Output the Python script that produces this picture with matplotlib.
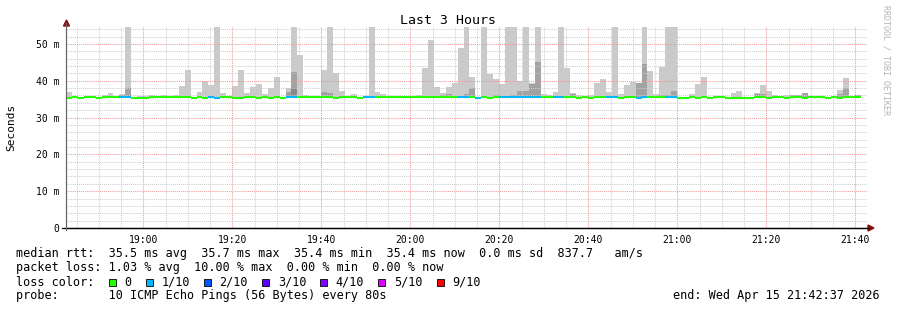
import numpy as np
import matplotlib
matplotlib.use('Agg')
import matplotlib.pyplot as plt
from matplotlib.patches import Polygon, Rectangle

# ---------------- data ----------------
start_min = 42 + 37 / 60          # 18:42:37 expressed as minutes after 18:00
step_min = 80 / 60                # one probe every 80 s

smoke_max = [37.0, 35.6, 35.6, 35.6, 35.6, 35.6, 36.1, 36.6, 35.6, 36.5,
             60.0, 35.6, 35.9, 35.9, 36.1, 35.6, 36.1, 35.6, 36.1, 38.6,
             42.9, 35.6, 36.9, 39.9, 38.9, 60.0, 36.6, 35.6, 38.6, 42.9,
             36.6, 38.2, 39.0, 36.5, 37.9, 40.9, 35.6, 37.9, 60.0, 47.0,
             36.0, 35.6, 35.6, 42.9, 60.0, 42.0, 37.2, 35.9, 36.3, 35.6,
             35.8, 60.0, 36.9, 36.3, 35.6, 35.6, 35.9, 35.6, 35.6, 36.0,
             43.5, 51.1, 38.3, 36.6, 38.2, 39.5, 49.0, 60.0, 41.0, 35.6,
             60.0, 41.7, 40.4, 39.1, 60.0, 60.0, 39.9, 60.0, 39.4, 60.0,
             36.4, 36.0, 37.0, 60.0, 43.5, 36.6, 36.0, 35.6, 36.1, 39.4,
             40.5, 37.0, 60.0, 36.3, 38.9, 39.7, 39.5, 60.0, 42.6, 36.3,
             43.8, 60.0, 60.0, 35.6, 35.6, 36.4, 39.1, 41.0, 35.6, 35.6,
             35.6, 35.6, 36.7, 37.2, 35.6, 35.6, 36.7, 38.9, 37.2, 36.0,
             35.6, 36.0, 36.1, 36.1, 36.7, 35.6, 35.6, 35.6, 35.6, 35.6,
             37.6, 40.8, 35.6, 36.0]

smoke_mid = {9: 36.2, 10: 38.0, 37: 37.0, 38: 42.4, 43: 36.9, 44: 36.6,
             63: 36.2, 64: 36.4, 67: 36.4, 68: 38.0, 72: 36.2, 74: 35.9,
             75: 36.2, 76: 37.2, 77: 37.2, 78: 39.2, 79: 45.1, 85: 36.3,
             96: 39.4, 97: 44.6, 100: 36.0, 101: 36.2, 102: 37.2, 116: 36.3,
             117: 36.4, 122: 36.1, 123: 36.1, 124: 36.7, 130: 36.4, 131: 38.0,
             133: 36.0}

smoke_dark = {37: 36.2, 38: 37.9}

dip_steps = [0, 2, 5, 11, 12, 13, 21, 23, 25, 28, 29, 32, 34, 36, 45, 49, 69,
             71, 86, 88, 93, 96, 103, 104, 106, 108, 111, 112, 113, 114, 115,
             118, 121, 124, 128, 130]
loss_steps = [9, 10, 24, 25, 37, 38, 50, 51, 66, 67, 69, 73, 74, 75, 76, 77,
              78, 79, 82, 83, 91, 92, 96, 97, 101, 102]

median_normal = 35.45
median_dip = 35.18
smoke_floor = 35.3

x_tick_labels = ['19:00', '19:20', '19:40', '20:00', '20:20', '20:40',
                 '21:00', '21:20', '21:40']
y_tick_labels = ['0', '10 m', '20 m', '30 m', '40 m', '50 m']
loss_labels = ['0', '1/10', '2/10', '3/10', '4/10', '5/10', '9/10']
loss_colors = ['#26ff00', '#00b8ff', '#0059ff', '#5e00ff', '#7e00ff',
               '#dd00ff', '#ff0000']

# ---------------- derived series ----------------
n = len(smoke_max)
edges = start_min + step_min * np.arange(n + 1)
mx = np.array(smoke_max)
mid = np.array([smoke_mid.get(i, np.nan) for i in range(n)])
dark = np.array([smoke_dark.get(i, np.nan) for i in range(n)])
median = np.full(n, median_normal)
median[dip_steps] = median_dip
loss = np.zeros(n, dtype=int)
loss[loss_steps] = 1

# ---------------- figure ----------------
W, H = 897, 310
fig = plt.figure(figsize=(W / 100, H / 100), dpi=100)
fig.patch.set_facecolor('white')


def fx(px):
    return px / W


def fy(py):
    return 1 - py / H


L, R, T, B = 66, 867, 27, 228
ax = fig.add_axes([fx(L), fy(B), (R - L) / W, (B - T) / H])
ax.set_facecolor('white')

mono = 'DejaVu Sans Mono'

# smoke
ax.stairs(mx, edges, baseline=smoke_floor, fill=True, color='#cacaca', lw=0, zorder=1)
ax.stairs(np.where(np.isnan(mid), smoke_floor, mid), edges, baseline=smoke_floor,
          fill=True, color='#a2a2a2', lw=0, zorder=1.2)
ax.stairs(np.where(np.isnan(dark), smoke_floor, dark), edges, baseline=smoke_floor,
          fill=True, color='#888888', lw=0, zorder=1.4)

# median line coloured by loss
ax.hlines(median, edges[:-1], edges[1:], colors=[loss_colors[l] for l in loss],
          lw=1.5, zorder=4, capstyle='butt')

ax.set_xlim(edges[0], start_min + 180)
ax.set_ylim(0, 54.6)

ax.set_xticks(np.arange(60, 221, 20))
ax.set_xticklabels(x_tick_labels)
ax.set_xticks(np.arange(45, 222, 5), minor=True)
ax.set_yticks(np.arange(0, 51, 10))
ax.set_yticklabels(y_tick_labels)
ax.set_yticks(np.arange(2, 55, 2), minor=True)

ax.set_axisbelow(False)
ax.grid(which='minor', color='#cfcfcf', ls=(0, (1, 1)), lw=0.75, zorder=2.5)
ax.grid(which='major', color='#f09a9a', ls=(0, (1, 1)), lw=0.75, zorder=2.6)

ax.tick_params(axis='both', which='both', length=0, labelsize=7)
ax.tick_params(axis='x', pad=5)
ax.tick_params(axis='y', pad=5)
for lab in ax.get_xticklabels() + ax.get_yticklabels():
    lab.set_family(mono)

for s in ['top', 'right']:
    ax.spines[s].set_visible(False)
ax.spines['left'].set_color('#666666')
ax.spines['left'].set_linewidth(0.8)
ax.spines['bottom'].set_color('black')
ax.spines['bottom'].set_linewidth(0.9)

# axis extensions and arrows
fig.add_artist(plt.Line2D([fx(62), fx(869)], [fy(228), fy(228)], color='black', lw=0.9,
                          transform=fig.transFigure))
fig.add_artist(plt.Line2D([fx(66.2), fx(66.2)], [fy(230), fy(23)], color='#666666', lw=0.8,
                          transform=fig.transFigure))
fig.add_artist(Polygon([[fx(868), fy(225)], [fx(868), fy(231)], [fx(874), fy(228)]],
                       closed=True, color='#8b1010', transform=fig.transFigure))
fig.add_artist(Polygon([[fx(63.5), fy(26)], [fx(69.5), fy(26)], [fx(66.5), fy(20)]],
                       closed=True, color='#8b1010', transform=fig.transFigure))

# titles
fig.text(fx(448), fy(20), 'Last 3 Hours', family=mono, size=9.5, ha='center', va='center')
fig.text(fx(11), fy(127), 'Seconds', family=mono, size=8, rotation=90, ha='center', va='center')
fig.text(fx(886), fy(60), 'RRDTOOL / TOBI OETIKER', family=mono, size=6, rotation=270,
         ha='center', va='center', color='#b4b4b4')

# legend lines
legend_size = 8.5
fig.text(fx(16), fy(254), 'median rtt:  35.5 ms avg  35.7 ms max  35.4 ms min  35.4 ms now  0.0 ms sd  837.7   am/s',
         family=mono, size=legend_size, va='center', ha='left')
fig.text(fx(16), fy(268), 'packet loss: 1.03 % avg  10.00 % max  0.00 % min  0.00 % now',
         family=mono, size=legend_size, va='center', ha='left')
fig.text(fx(16), fy(282), 'loss color:', family=mono, size=legend_size, va='center', ha='left')
fig.text(fx(16), fy(296), 'probe:       10 ICMP Echo Pings (56 Bytes) every 80s',
         family=mono, size=legend_size, va='center', ha='left')
fig.text(fx(880), fy(296), 'end: Wed Apr 15 21:42:37 2026', family=mono, size=legend_size,
         va='center', ha='right')

box_x = [109] + [146 + 58.1 * k for k in range(len(loss_labels) - 1)]
for bx, lab, col in zip(box_x, loss_labels, loss_colors):
    fig.add_artist(Rectangle((fx(bx), fy(286)), 7 / W, 7 / H, facecolor=col,
                             edgecolor='black', lw=0.6, transform=fig.transFigure))
    fig.text(fx(bx + 15.5), fy(282), lab, family=mono, size=legend_size, va='center', ha='left')

fig.savefig('out.png', dpi=100, facecolor='white')
